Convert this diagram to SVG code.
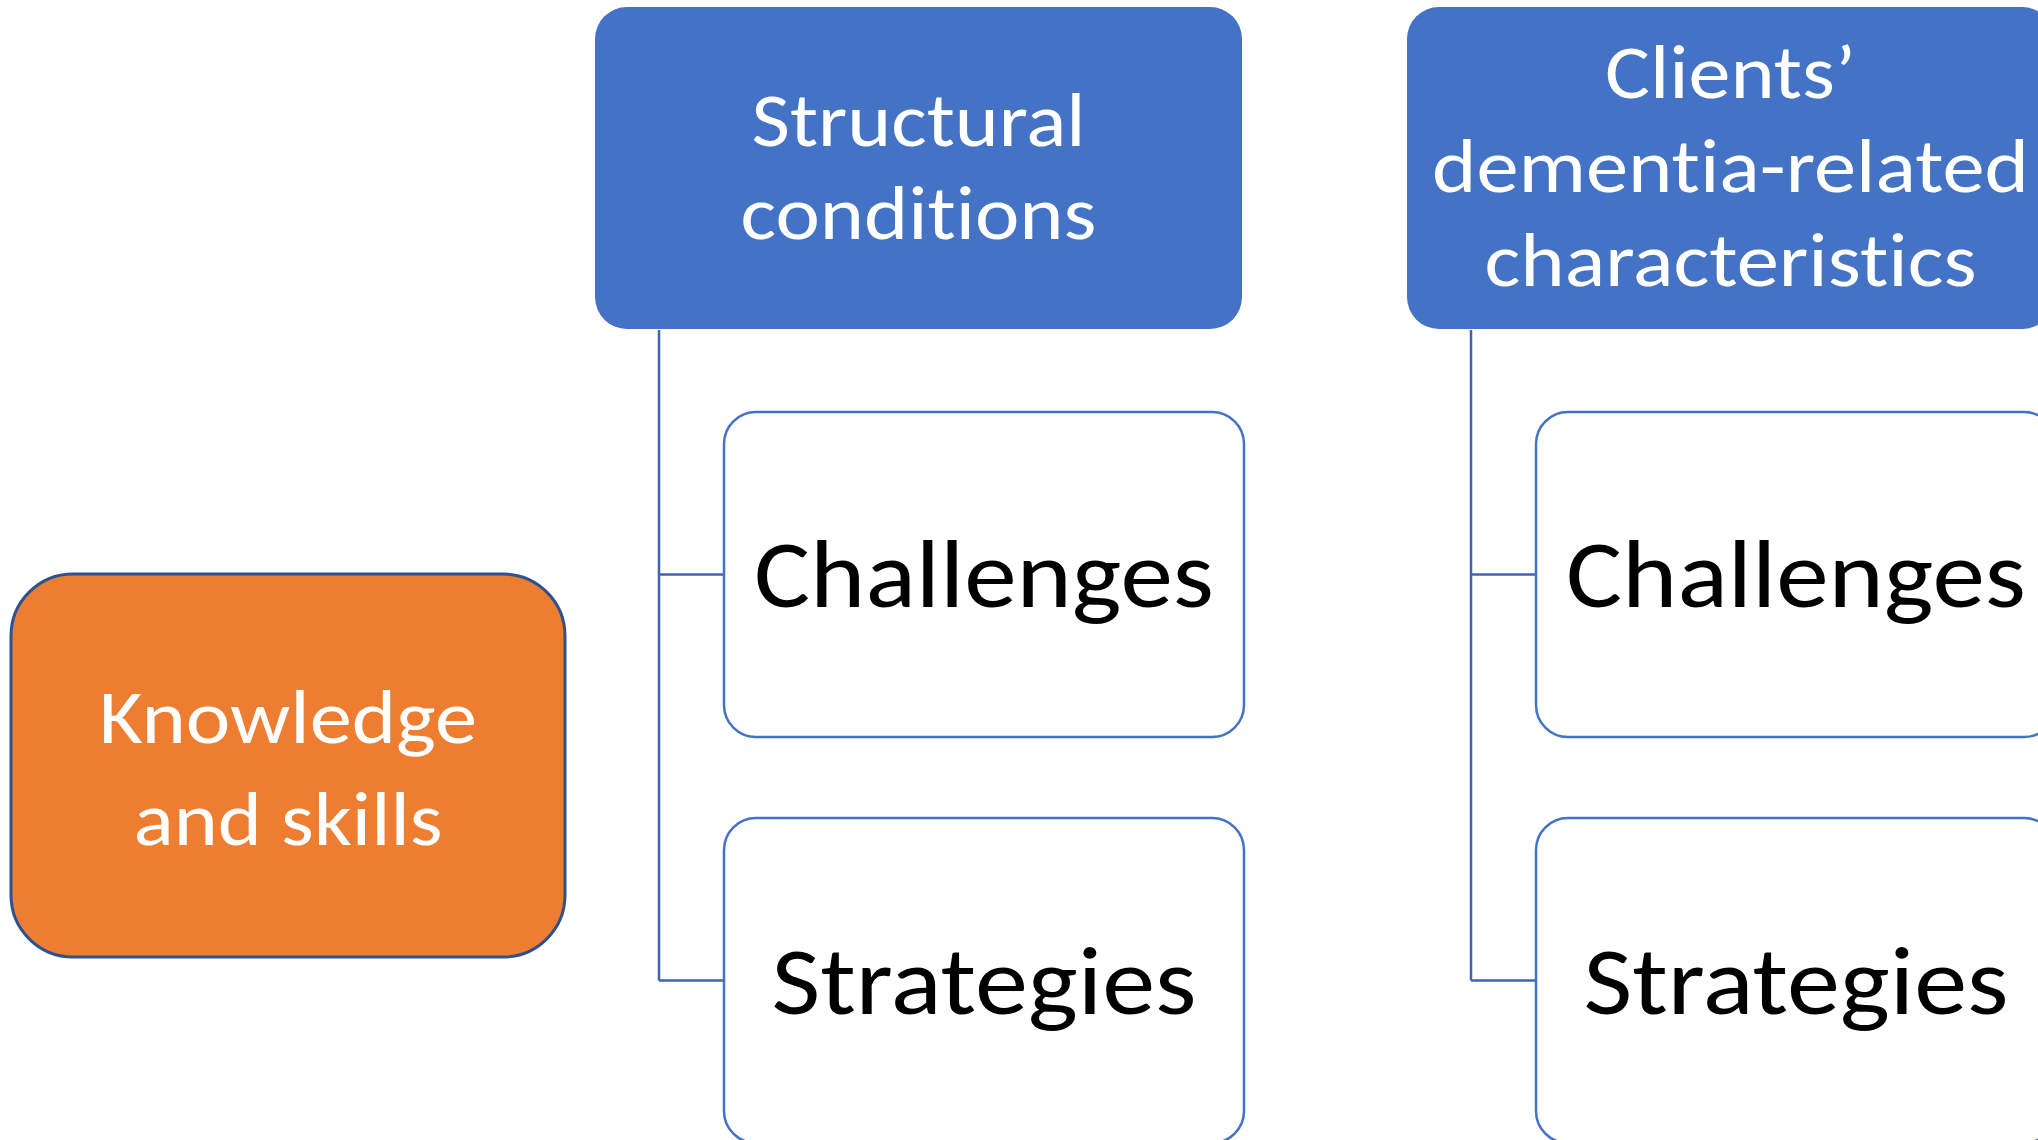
<svg xmlns="http://www.w3.org/2000/svg" width="2038" height="1140" viewBox="0 0 2038 1140">
  <style>
    .head { fill: #4472C4; }
    .child { fill: #FFFFFF; stroke: #4472C4; stroke-width: 2.5; }
    .core { fill: #ED7D31; stroke: #2F528F; stroke-width: 3; }
    .wire { fill: none; stroke: #3F65B0; stroke-width: 2.5; }
    .label { font-family: Calibri, Carlito, Lato, "Liberation Sans", sans-serif; text-anchor: middle;
             font-variant-ligatures: none; font-feature-settings: "liga" 0, "clig" 0, "dlig" 0; }
    .light { fill: #FFFFFF; font-size: 77px; }
    .dark { fill: #000000; font-size: 96px; }
  </style>
  <rect width="2038" height="1140" fill="#FFFFFF"/>

  <!-- connectors: spine from each heading to its two children -->
  <g id="connectors">
    <path class="wire" d="M659,330 V980.5 M659,574.5 H724 M659,980.5 H724"/>
    <path class="wire" d="M1471,330 V980.5 M1471,574.5 H1536 M1471,980.5 H1536"/>
  </g>

  <g id="knowledge-skills">
    <rect class="core" x="11" y="574" width="554" height="383" rx="62" ry="62"/>
    <text class="label light" x="288" y="743" textLength="378" lengthAdjust="spacingAndGlyphs">Knowledge</text>
    <text class="label light" x="288" y="845" textLength="309" lengthAdjust="spacingAndGlyphs">and skills</text>
  </g>

  <g id="structural-conditions">
    <rect class="head" x="595" y="7" width="647" height="322" rx="32" ry="32"/>
    <text class="label light" x="918.5" y="146" textLength="334" lengthAdjust="spacingAndGlyphs">Structural</text>
    <text class="label light" x="918.5" y="239" textLength="356" lengthAdjust="spacingAndGlyphs">conditions</text>
  </g>

  <g id="structural-challenges">
    <rect class="child" x="724" y="412" width="520" height="325" rx="32" ry="32"/>
    <text class="label dark" x="984" y="607" textLength="460" lengthAdjust="spacingAndGlyphs">Challenges</text>
  </g>

  <g id="structural-strategies">
    <rect class="child" x="724" y="818" width="520" height="325" rx="32" ry="32"/>
    <text class="label dark" x="984" y="1014" textLength="425" lengthAdjust="spacingAndGlyphs">Strategies</text>
  </g>

  <g id="client-characteristics">
    <rect class="head" x="1407" y="7" width="647" height="322" rx="32" ry="32"/>
    <text class="label light" x="1730.5" y="98" textLength="251" lengthAdjust="spacingAndGlyphs">Clients’</text>
    <text class="label light" x="1730.5" y="192" textLength="597" lengthAdjust="spacingAndGlyphs">dementia-related</text>
    <text class="label light" x="1730.5" y="286" textLength="492" lengthAdjust="spacingAndGlyphs">characteristics</text>
  </g>

  <g id="client-challenges">
    <rect class="child" x="1536" y="412" width="520" height="325" rx="32" ry="32"/>
    <text class="label dark" x="1796" y="607" textLength="460" lengthAdjust="spacingAndGlyphs">Challenges</text>
  </g>

  <g id="client-strategies">
    <rect class="child" x="1536" y="818" width="520" height="325" rx="32" ry="32"/>
    <text class="label dark" x="1796" y="1014" textLength="425" lengthAdjust="spacingAndGlyphs">Strategies</text>
  </g>
</svg>
